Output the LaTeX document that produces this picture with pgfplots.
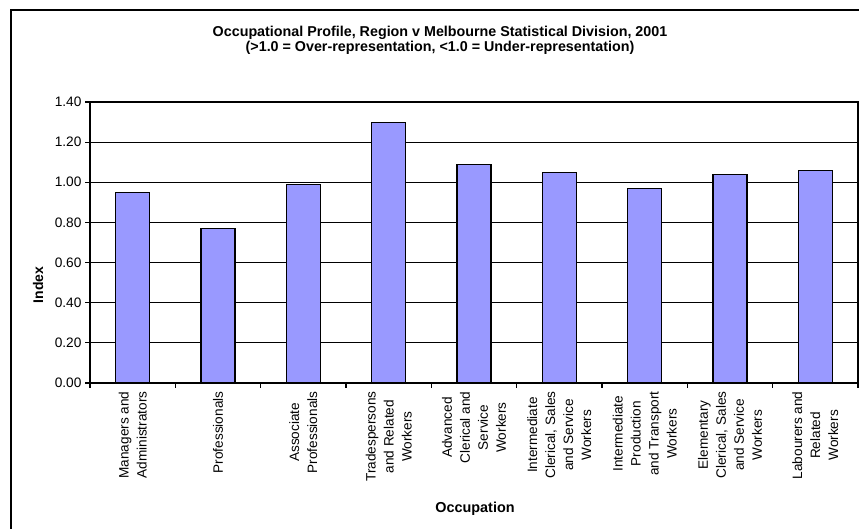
\documentclass[border=0pt]{standalone}
\usepackage{fontspec}
\setmainfont{Liberation Sans}
\usepackage{pgfplots}
\pgfplotsset{compat=1.18}
\definecolor{barfill}{HTML}{9999FF}
\begin{document}
\begin{tikzpicture}[x=1pt,y=1pt]
\useasboundingbox (0,0) rectangle (859,529);
\fill[white] (0,0) rectangle (859,529);
\draw[line width=1.8pt] (11,-10) -- (11,519) -- (880,519);
\node[font=\fontsize{14.3}{16}\selectfont\bfseries, anchor=base] at (440,492) {Occupational Profile, Region v Melbourne Statistical Division, 2001};
\node[font=\fontsize{14.3}{16}\selectfont\bfseries, anchor=base] at (440,477) {(>1.0 = Over-representation, <1.0 = Under-representation)};
\node[font=\fontsize{14}{16}\selectfont\bfseries, rotate=90, anchor=base] at (43,244) {Index};
\node[font=\fontsize{14.4}{16}\selectfont\bfseries, anchor=base] at (475,16) {Occupation};
\begin{axis}[
  at={(90pt,146pt)}, anchor=south west,
  width=768pt, height=281pt, scale only axis,
  xmin=-0.5, xmax=8.5, ymin=0, ymax=1.4,
  ybar, bar width=34pt,
  axis line style={line width=1.4pt},
  ytick={0,0.2,0.4,0.6,0.8,1.0,1.2,1.4},
  yticklabel style={/pgf/number format/.cd, fixed, fixed zerofill, precision=2, assume math mode=true},
  ymajorgrids, major grid style={black, line width=0.9pt},
  tick align=outside,
  xtick pos=lower, ytick pos=left,
  major tick length=5pt, minor tick length=5pt,
  tick style={black, line width=1.2pt},
  xtick={0,1,2,3,4,5,6,7,8},
  major x tick style={draw=none},
  minor xtick={-0.5,0.5,1.5,2.5,3.5,4.5,5.5,6.5,7.5,8.5},
  ticklabel style={font=\fontsize{13.7}{18}\selectfont},
  xticklabel style={rotate=90, anchor=east, align=center, font=\fontsize{13.6}{18}\selectfont},
  xticklabels={{Managers and\\Administrators}, {Professionals}, {Associate\\Professionals}, {Tradespersons\\and Related\\Workers}, {Advanced\\Clerical and\\Service\\Workers}, {Intermediate\\Clerical, Sales\\and Service\\Workers}, {Intermediate\\Production\\and Transport\\Workers}, {Elementary\\Clerical, Sales\\and Service\\Workers}, {Labourers and\\Related\\Workers}},
]
\addplot[fill=barfill, draw=black, line width=1.1pt] coordinates {(0,0.95) (1,0.77) (2,0.99) (3,1.30) (4,1.09) (5,1.05) (6,0.97) (7,1.04) (8,1.06)};
\end{axis}
\end{tikzpicture}
\end{document}
